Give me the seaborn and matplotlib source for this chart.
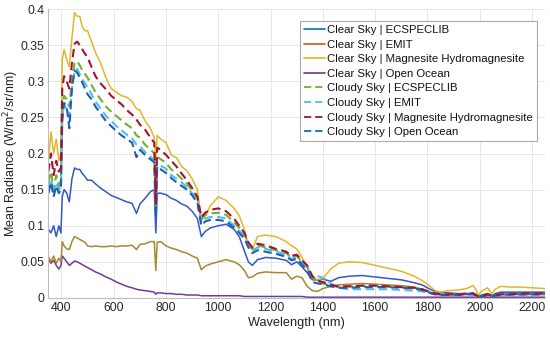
import numpy as np
import pandas as pd
import matplotlib
matplotlib.use("Agg")
import matplotlib.pyplot as plt
from matplotlib.lines import Line2D
import seaborn as sns

wavelength = [350, 360, 370, 380, 390, 398, 403, 410, 420, 430,
              440, 450, 460, 470, 480, 490, 500, 515, 530, 550,
              570, 590, 610, 630, 650, 670, 687, 700, 720, 740,
              755, 761, 766, 780, 800, 820, 840, 860, 880, 900,
              920, 935, 950, 970, 1000, 1030, 1060, 1080, 1100, 1115,
              1130, 1150, 1180, 1220, 1260, 1280, 1300, 1320, 1340, 1360,
              1380, 1400, 1430, 1460, 1500, 1550, 1600, 1650, 1700, 1750,
              1780, 1810, 1830, 1850, 1880, 1920, 1950, 1975, 1985, 1995,
              2010, 2030, 2045, 2060, 2080, 2120, 2160, 2200, 2250]

clear_ecspeclib = [0.095, 0.090, 0.100, 0.085, 0.100, 0.090, 0.140, 0.150, 0.145, 0.133,
                   0.165, 0.180, 0.178, 0.178, 0.172, 0.168, 0.163, 0.163, 0.158, 0.152,
                   0.147, 0.142, 0.139, 0.136, 0.133, 0.131, 0.117, 0.130, 0.138, 0.147,
                   0.150, 0.090, 0.145, 0.145, 0.143, 0.138, 0.135, 0.130, 0.127, 0.120,
                   0.110, 0.085, 0.092, 0.097, 0.100, 0.102, 0.095, 0.085, 0.065, 0.050,
                   0.045, 0.053, 0.056, 0.055, 0.052, 0.046, 0.050, 0.043, 0.035, 0.025,
                   0.025, 0.026, 0.023, 0.028, 0.030, 0.031, 0.029, 0.027, 0.025, 0.021,
                   0.018, 0.012, 0.009, 0.007, 0.007, 0.006, 0.006, 0.007, 0.005, 0.002,
                   0.004, 0.006, 0.003, 0.006, 0.008, 0.008, 0.008, 0.008, 0.008]

clear_emit = [0.057, 0.050, 0.058, 0.048, 0.055, 0.050, 0.078, 0.072, 0.068, 0.067,
              0.078, 0.085, 0.083, 0.081, 0.079, 0.077, 0.072, 0.071, 0.072, 0.071,
              0.071, 0.072, 0.071, 0.072, 0.072, 0.073, 0.067, 0.074, 0.075, 0.078,
              0.078, 0.038, 0.077, 0.078, 0.072, 0.069, 0.067, 0.064, 0.062, 0.058,
              0.055, 0.039, 0.044, 0.047, 0.050, 0.053, 0.050, 0.046, 0.038, 0.028,
              0.029, 0.034, 0.036, 0.035, 0.035, 0.026, 0.030, 0.028, 0.016, 0.010,
              0.009, 0.013, 0.016, 0.018, 0.019, 0.020, 0.019, 0.018, 0.017, 0.015,
              0.012, 0.008, 0.006, 0.004, 0.004, 0.005, 0.005, 0.006, 0.004, 0.002,
              0.004, 0.006, 0.003, 0.005, 0.007, 0.007, 0.007, 0.007, 0.007]

clear_maghydro = [0.190, 0.230, 0.200, 0.220, 0.190, 0.200, 0.330, 0.344, 0.330, 0.320,
                  0.360, 0.395, 0.390, 0.390, 0.375, 0.370, 0.370, 0.355, 0.340, 0.325,
                  0.305, 0.290, 0.285, 0.280, 0.278, 0.272, 0.262, 0.260, 0.245, 0.235,
                  0.222, 0.190, 0.225, 0.220, 0.215, 0.198, 0.194, 0.182, 0.176, 0.165,
                  0.150, 0.107, 0.113, 0.128, 0.140, 0.135, 0.124, 0.114, 0.095, 0.071,
                  0.067, 0.085, 0.087, 0.085, 0.078, 0.072, 0.068, 0.056, 0.043, 0.030,
                  0.025, 0.027, 0.040, 0.048, 0.050, 0.049, 0.045, 0.041, 0.037, 0.030,
                  0.024, 0.016, 0.010, 0.008, 0.010, 0.011, 0.013, 0.017, 0.012, 0.004,
                  0.010, 0.014, 0.006, 0.012, 0.016, 0.015, 0.015, 0.014, 0.013]

clear_ocean = [0.053, 0.048, 0.052, 0.045, 0.040, 0.045, 0.058, 0.055, 0.050, 0.045,
               0.048, 0.051, 0.050, 0.048, 0.046, 0.044, 0.042, 0.039, 0.036, 0.033,
               0.029, 0.026, 0.022, 0.019, 0.016, 0.014, 0.012, 0.011, 0.010, 0.009,
               0.008, 0.005, 0.007, 0.007, 0.006, 0.006, 0.005, 0.005, 0.004, 0.004,
               0.004, 0.003, 0.003, 0.003, 0.003, 0.003, 0.003, 0.003, 0.002, 0.002,
               0.002, 0.002, 0.002, 0.002, 0.002, 0.002, 0.002, 0.002, 0.001, 0.001,
               0.001, 0.001, 0.001, 0.001, 0.001, 0.001, 0.001, 0.001, 0.001, 0.001,
               0.001, 0.001, 0.001, 0.001, 0.001, 0.001, 0.001, 0.001, 0.001, 0.001,
               0.001, 0.001, 0.001, 0.001, 0.001, 0.001, 0.001, 0.001, 0.001]

cloudy_ecspeclib = [0.160, 0.175, 0.150, 0.170, 0.155, 0.165, 0.265, 0.280, 0.275, 0.265,
                    0.300, 0.325, 0.328, 0.322, 0.315, 0.310, 0.305, 0.295, 0.285, 0.275,
                    0.265, 0.258, 0.252, 0.246, 0.240, 0.235, 0.225, 0.222, 0.212, 0.206,
                    0.200, 0.120, 0.195, 0.192, 0.187, 0.178, 0.172, 0.165, 0.158, 0.148,
                    0.138, 0.110, 0.115, 0.117, 0.118, 0.115, 0.105, 0.097, 0.088, 0.075,
                    0.068, 0.073, 0.070, 0.066, 0.062, 0.056, 0.058, 0.050, 0.043, 0.028,
                    0.022, 0.020, 0.017, 0.015, 0.016, 0.017, 0.017, 0.016, 0.015, 0.014,
                    0.012, 0.008, 0.006, 0.005, 0.005, 0.005, 0.005, 0.006, 0.004, 0.002,
                    0.003, 0.005, 0.003, 0.004, 0.005, 0.005, 0.005, 0.005, 0.005]

cloudy_emit = [0.150, 0.165, 0.145, 0.160, 0.150, 0.155, 0.250, 0.268, 0.262, 0.250,
               0.290, 0.315, 0.317, 0.310, 0.303, 0.297, 0.292, 0.282, 0.272, 0.262,
               0.252, 0.245, 0.238, 0.232, 0.226, 0.221, 0.212, 0.210, 0.202, 0.196,
               0.190, 0.115, 0.186, 0.183, 0.179, 0.170, 0.165, 0.160, 0.153, 0.145,
               0.135, 0.105, 0.110, 0.112, 0.112, 0.110, 0.100, 0.093, 0.085, 0.072,
               0.065, 0.070, 0.068, 0.064, 0.060, 0.054, 0.056, 0.048, 0.040, 0.030,
               0.030, 0.028, 0.020, 0.014, 0.012, 0.012, 0.012, 0.012, 0.011, 0.010,
               0.009, 0.006, 0.005, 0.004, 0.004, 0.004, 0.004, 0.005, 0.003, 0.002,
               0.002, 0.004, 0.002, 0.003, 0.004, 0.004, 0.004, 0.004, 0.004]

cloudy_maghydro = [0.175, 0.200, 0.170, 0.190, 0.175, 0.180, 0.290, 0.307, 0.300, 0.290,
                   0.325, 0.352, 0.355, 0.350, 0.344, 0.338, 0.333, 0.320, 0.307, 0.297,
                   0.289, 0.280, 0.274, 0.268, 0.260, 0.254, 0.247, 0.240, 0.233, 0.222,
                   0.215, 0.130, 0.208, 0.205, 0.198, 0.190, 0.182, 0.172, 0.163, 0.152,
                   0.140, 0.112, 0.118, 0.122, 0.124, 0.120, 0.110, 0.100, 0.090, 0.077,
                   0.070, 0.075, 0.073, 0.068, 0.064, 0.058, 0.060, 0.052, 0.045, 0.030,
                   0.024, 0.022, 0.018, 0.016, 0.016, 0.017, 0.017, 0.016, 0.015, 0.014,
                   0.012, 0.008, 0.006, 0.005, 0.005, 0.005, 0.006, 0.006, 0.004, 0.002,
                   0.003, 0.005, 0.003, 0.004, 0.005, 0.005, 0.006, 0.006, 0.006]

cloudy_ocean = [0.145, 0.160, 0.140, 0.155, 0.145, 0.150, 0.245, 0.270, 0.265, 0.235,
                0.290, 0.315, 0.312, 0.305, 0.298, 0.290, 0.282, 0.275, 0.265, 0.255,
                0.245, 0.238, 0.231, 0.225, 0.220, 0.215, 0.195, 0.205, 0.198, 0.192,
                0.188, 0.112, 0.182, 0.178, 0.173, 0.166, 0.160, 0.155, 0.150, 0.142,
                0.132, 0.100, 0.106, 0.108, 0.108, 0.106, 0.097, 0.090, 0.082, 0.070,
                0.062, 0.066, 0.064, 0.061, 0.057, 0.052, 0.054, 0.046, 0.038, 0.022,
                0.020, 0.019, 0.016, 0.014, 0.014, 0.015, 0.015, 0.015, 0.014, 0.013,
                0.011, 0.007, 0.005, 0.004, 0.004, 0.004, 0.005, 0.005, 0.003, 0.002,
                0.002, 0.004, 0.002, 0.003, 0.004, 0.005, 0.005, 0.005, 0.005]

labels = ["Clear Sky | ECSPECLIB", "Clear Sky | EMIT",
          "Clear Sky | Magnesite Hydromagnesite", "Clear Sky | Open Ocean",
          "Cloudy Sky | ECSPECLIB", "Cloudy Sky | EMIT",
          "Cloudy Sky | Magnesite Hydromagnesite", "Cloudy Sky | Open Ocean"]
series = [clear_ecspeclib, clear_emit, clear_maghydro, clear_ocean,
          cloudy_ecspeclib, cloudy_emit, cloudy_maghydro, cloudy_ocean]

y_ticks = [0, 0.05, 0.1, 0.15, 0.2, 0.25, 0.3, 0.35, 0.4]
y_ticklabels = ["0", "0.05", "0.1", "0.15", "0.2", "0.25", "0.3", "0.35", "0.4"]
x_ticks = [400, 600, 800, 1000, 1200, 1400, 1600, 1800, 2000, 2200]

legend_colors = ["#0072BD", "#D95319", "#EDB120", "#7E2F8E",
                 "#77AC30", "#4DBEEE", "#A2142F", "#0072BD"]
line_colors = ["#3358C4", "#A8872F", "#E2B62A", "#6E3C9E",
               "#77AC30", "#4DBEEE", "#A2142F", "#1F5FAF"]
styles = ["-", "-", "-", "-", "--", "--", "--", "--"]

sns.set_theme(style="whitegrid")
plt.rcParams["font.family"] = ["Liberation Sans", "DejaVu Sans"]

fig = plt.figure(figsize=(5.5, 3.37), dpi=100)
ax = fig.add_axes([0.088, 0.116, 0.903, 0.857])

df = pd.DataFrame({"wl": wavelength})
order = [3, 1, 0, 2, 4, 5, 7, 6]
for i in order:
    df["v"] = series[i]
    lw = 1.1 if styles[i] == "-" else 1.5
    sns.lineplot(data=df, x="wl", y="v", ax=ax, color=line_colors[i],
                 linewidth=lw, legend=False)
    line = ax.lines[-1]
    if styles[i] == "--":
        line.set_linestyle((0, (4, 2.2)))

ax.set_xlim(350, 2250)
ax.set_ylim(0, 0.4)
ax.set_xticks(x_ticks)
ax.set_yticks(y_ticks)
ax.set_yticklabels(y_ticklabels)
ax.set_xlabel("Wavelength (nm)", fontsize=9.2, labelpad=2, color="#222222")
ax.set_ylabel("Mean Radiance (W/m$^2$/sr/nm)", fontsize=9, color="#222222")
ax.yaxis.set_label_coords(-0.056, 0.5)
ax.tick_params(axis="both", labelsize=8.8, colors="#262626", length=0, pad=3)
ax.grid(True, color="#E6E6E6", linewidth=0.7)
ax.set_facecolor("white")
for s in ["top", "right"]:
    ax.spines[s].set_visible(False)
for s in ["left", "bottom"]:
    ax.spines[s].set_color("#BDBDBD")
    ax.spines[s].set_linewidth(0.8)

handles = [Line2D([0], [0], color=legend_colors[i],
                  linestyle="-" if styles[i] == "-" else (0, (4, 2.2)),
                  linewidth=1.2 if styles[i] == "-" else 1.3) for i in range(8)]
leg = ax.legend(handles, labels, loc="upper right", bbox_to_anchor=(0.984, 0.958),
                fontsize=8.2, frameon=True, fancybox=False, framealpha=1,
                edgecolor="#AAAAAA", handlelength=1.85, handletextpad=0.2,
                labelspacing=0.4, borderpad=0.35, borderaxespad=0.0)
leg.get_frame().set_linewidth(0.8)
for t in leg.get_texts():
    t.set_color("#111111")

fig.savefig("out.png", dpi=100)
